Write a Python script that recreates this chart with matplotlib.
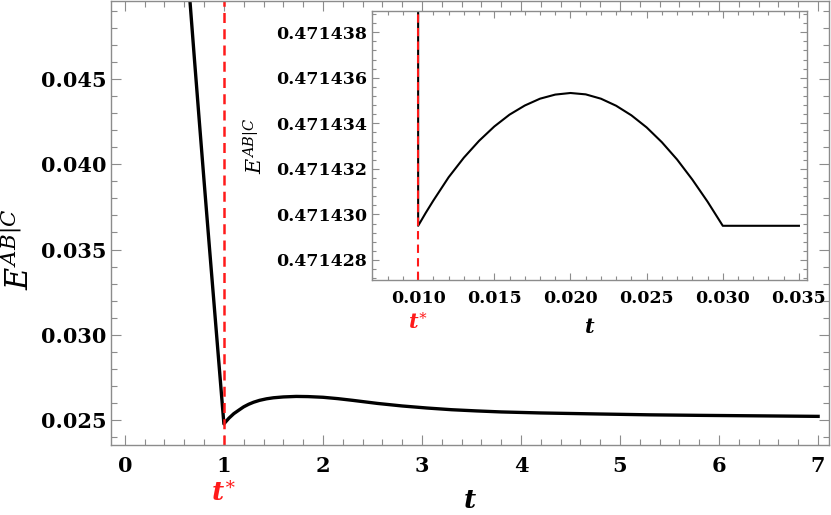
import matplotlib
matplotlib.use("Agg")
import matplotlib.pyplot as plt
from matplotlib.ticker import AutoMinorLocator, FormatStrFormatter

plt.rcParams['mathtext.fontset'] = 'dejavuserif'
plt.rcParams['font.family'] = ['DejaVu Serif']

# Main curve data
t_main = [0.62, 0.657, 0.70, 0.75, 0.80, 0.85, 0.90, 0.95, 1.0,
          1.05, 1.10, 1.157, 1.20, 1.25, 1.30, 1.36, 1.43, 1.50, 1.60, 1.73, 1.85, 2.0, 2.15, 2.30,
          2.55, 2.80, 3.05, 3.30, 3.55, 3.80, 4.20, 4.78, 5.30, 5.79, 6.40, 7.0]
e_main = [0.0523, 0.0496, 0.04635, 0.04265, 0.0390, 0.0354, 0.03185, 0.0283, 0.02477,
          0.02510, 0.02537, 0.02560, 0.02577, 0.02592, 0.02604, 0.02615, 0.02624, 0.02630, 0.02635,
          0.02638, 0.02637, 0.02633, 0.02625, 0.02615,
          0.02597, 0.02582, 0.02570, 0.02560, 0.02553, 0.02547, 0.02541, 0.02535, 0.02530, 0.02527,
          0.02524, 0.02521]
t_star_main = 1.0

# Inset data
t_in = [0.009, 0.0100, 0.0105, 0.0110, 0.0120, 0.0130, 0.0140, 0.0150, 0.0160, 0.0170, 0.0180,
        0.0190, 0.0200, 0.0210, 0.0220, 0.0230, 0.0240, 0.0250, 0.0260, 0.0270, 0.0280, 0.0290,
        0.0300, 0.0350]
e_in = [0.4800000, 0.4714295, 0.47143007, 0.47143061, 0.47143163, 0.47143249, 0.47143323,
        0.47143386, 0.47143438, 0.47143478, 0.47143508, 0.47143526, 0.47143533, 0.47143527,
        0.47143508, 0.47143477, 0.47143435, 0.47143382, 0.47143317, 0.47143241, 0.47143153,
        0.47143056, 0.4714295, 0.4714295]
t_star_in = 0.010

main_xticks = [0, 1, 2, 3, 4, 5, 6, 7]
main_yticks = [0.025, 0.030, 0.035, 0.040, 0.045]
in_xticks = [0.010, 0.015, 0.020, 0.025, 0.030, 0.035]
in_yticks = [0.471428, 0.471430, 0.471432, 0.471434, 0.471436, 0.471438]

fig = plt.figure(figsize=(8.31, 5.15), dpi=100)
spine_col = '#8c8c8c'
red = '#ff1a1a'

def style(ax, major_len, minor_len, lsize):
    for s in ax.spines.values():
        s.set_color(spine_col)
        s.set_linewidth(1.0)
    ax.tick_params(which='both', direction='in', top=True, right=True, color=spine_col,
                   labelsize=lsize, width=0.8)
    ax.tick_params(which='major', length=major_len)
    ax.tick_params(which='minor', length=minor_len)
    for lab in ax.get_xticklabels() + ax.get_yticklabels():
        lab.set_fontweight('bold')

ax = fig.add_axes([111/831, 1-445/515, (829-111)/831, (445-1)/515])
ax.plot(t_main, e_main, color='black', lw=2.4)
ax.axvline(t_star_main, color=red, lw=1.8, ls=(0, (4, 2.5)))
ax.set_xlim(-0.14, 7.11)
ax.set_ylim(0.02353, 0.04958)
ax.set_xticks(main_xticks)
ax.set_yticks(main_yticks)
ax.yaxis.set_major_formatter(FormatStrFormatter('%.3f'))
ax.xaxis.set_minor_locator(AutoMinorLocator(5))
ax.yaxis.set_minor_locator(AutoMinorLocator(5))
style(ax, 7, 4, 15)
ax.tick_params(axis='x', pad=8)
ax.set_xlabel(r'$\mathbfit{t}$', fontsize=19)
ax.xaxis.set_label_coords(0.5, -0.125)
ax.xaxis.label.set_va('center')
ax.set_ylabel(r'$E^{AB|C}$', fontsize=22)
ax.yaxis.label.set_va('center')
ax.yaxis.label.set_ha('center')
ax.yaxis.set_label_coords(-0.127, 0.44)
ax.text(t_star_main, -0.108, r'$\mathbfit{t}^{\ast}$', color=red, fontsize=19, ha='center',
        va='center', transform=ax.get_xaxis_transform())

axi = fig.add_axes([372/831, 1-280/515, (807-372)/831, (280-11)/515])
axi.plot(t_in, e_in, color='black', lw=1.5)
axi.axvline(t_star_in, color=red, lw=1.5, ls=(0, (4, 2.5)))
axi.set_xlim(0.00697, 0.03553)
axi.set_ylim(0.47142712, 0.47143893)
axi.set_xticks(in_xticks)
axi.set_yticks(in_yticks)
axi.xaxis.set_major_formatter(FormatStrFormatter('%.3f'))
axi.yaxis.set_major_formatter(FormatStrFormatter('%.6f'))
axi.xaxis.set_minor_locator(AutoMinorLocator(5))
axi.yaxis.set_minor_locator(AutoMinorLocator(5))
style(axi, 5, 3, 12.5)
axi.tick_params(axis='x', pad=7)
axi.set_xlabel(r'$\mathbfit{t}$', fontsize=15)
axi.xaxis.set_label_coords(0.5, -0.175)
axi.xaxis.label.set_va('center')
axi.set_ylabel(r'$E^{AB|C}$', fontsize=15)
axi.yaxis.label.set_va('center')
axi.yaxis.label.set_ha('center')
axi.yaxis.set_label_coords(-0.269, 0.50)
axi.text(t_star_in, -0.158, r'$\mathbfit{t}^{\ast}$', color=red, fontsize=15, ha='center',
         va='center', transform=axi.get_xaxis_transform())

fig.savefig('out.png', dpi=100)
